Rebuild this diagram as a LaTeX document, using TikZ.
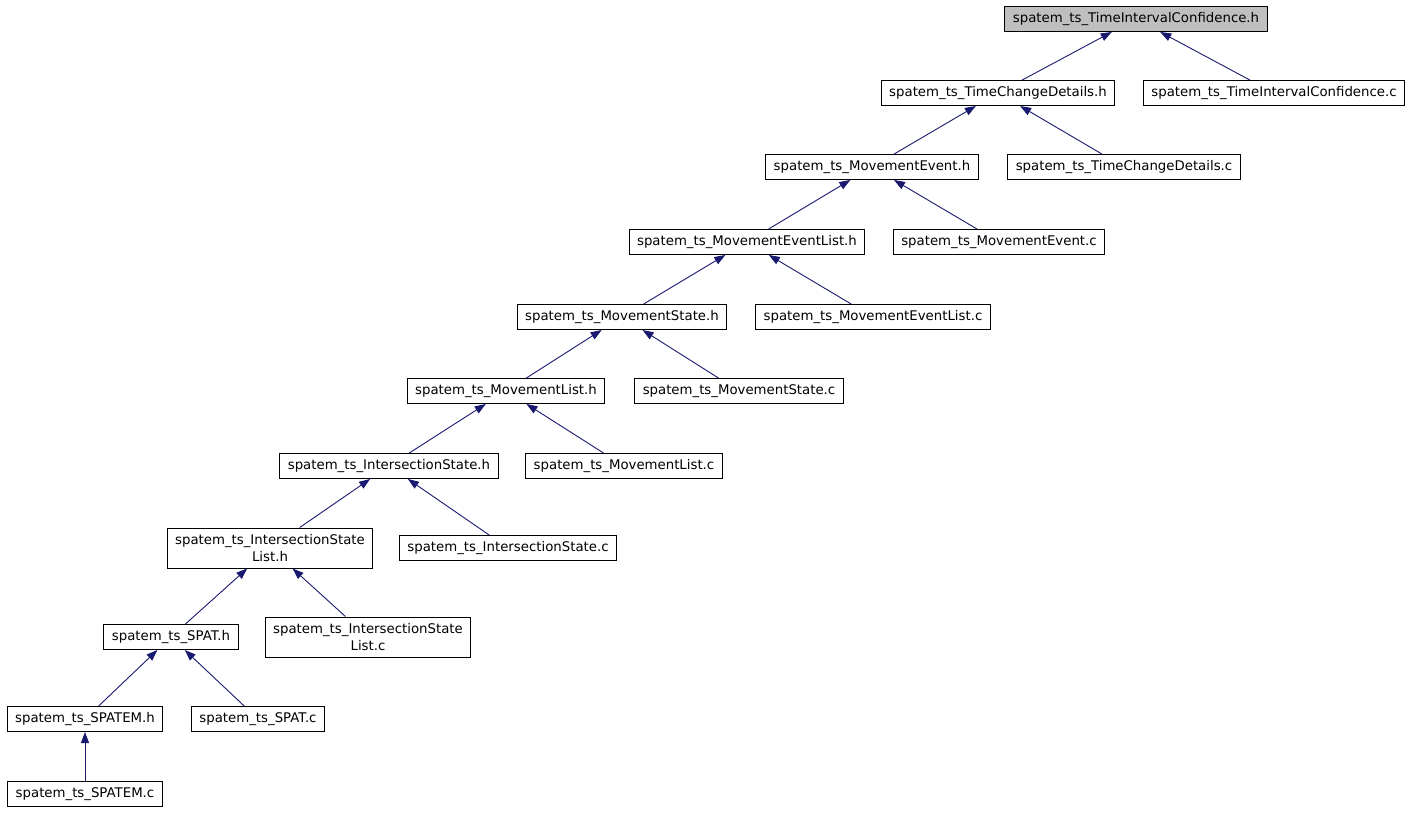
\documentclass[tikz,border=0pt]{standalone}
\usepackage{fontspec}
\setmainfont{DejaVu Sans}
\usetikzlibrary{arrows.meta}

\definecolor{edgeblue}{HTML}{191970}
\definecolor{rootgray}{HTML}{BFBFBF}

\tikzset{every picture/.style={line width=1pt}}
\tikzset{
    file/.style={draw, fill=white, font=\fontsize{13.3}{15}\selectfont, align=center,
        inner xsep=8pt, inner ysep=2pt, minimum height=25pt},
    twoline/.style={file, font=\fontsize{13.3}{16.5}\selectfont, minimum height=40pt},
    dep/.style={color=edgeblue, line width=0.9pt, -{Triangle[length=11pt,width=8pt]}}
}

\begin{document}
\begin{tikzpicture}[x=1pt, y=-1pt]
    \useasboundingbox (0,0) rectangle (1410,813);
    \node[file, fill=rootgray] (tic) at (1136,19) {spatem\_ts\_TimeIntervalConfidence.h};
    \node[file] (tcd) at (998,93) {spatem\_ts\_TimeChangeDetails.h};
    \node[file] (ticc) at (1274,93) {spatem\_ts\_TimeIntervalConfidence.c};
    \node[file] (mev) at (872,167) {spatem\_ts\_MovementEvent.h};
    \node[file] (tcdc) at (1124,167) {spatem\_ts\_TimeChangeDetails.c};
    \node[file] (mel) at (747,242) {spatem\_ts\_MovementEventList.h};
    \node[file] (mevc) at (999,242) {spatem\_ts\_MovementEvent.c};
    \node[file] (mst) at (622,317) {spatem\_ts\_MovementState.h};
    \node[file] (melc) at (873,317) {spatem\_ts\_MovementEventList.c};
    \node[file] (mli) at (506,391) {spatem\_ts\_MovementList.h};
    \node[file] (mstc) at (739,391) {spatem\_ts\_MovementState.c};
    \node[file] (ist) at (389,466) {spatem\_ts\_IntersectionState.h};
    \node[file] (mlic) at (624,466) {spatem\_ts\_MovementList.c};
    \node[twoline] (isl) at (270,548) {spatem\_ts\_IntersectionState\\List.h};
    \node[file] (istc) at (508,548) {spatem\_ts\_IntersectionState.c};
    \node[file] (spat) at (171,637) {spatem\_ts\_SPAT.h};
    \node[twoline] (islc) at (368,637) {spatem\_ts\_IntersectionState\\List.c};
    \node[file] (spatem) at (85,719) {spatem\_ts\_SPATEM.h};
    \node[file] (spatc) at (258,719) {spatem\_ts\_SPAT.c};
    \node[file] (spatemc) at (85,794) {spatem\_ts\_SPATEM.c};

    \draw[dep] (tcd) -- (tic);
    \draw[dep] (ticc) -- (tic);
    \draw[dep] (mev) -- (tcd);
    \draw[dep] (tcdc) -- (tcd);
    \draw[dep] (mel) -- (mev);
    \draw[dep] (mevc) -- (mev);
    \draw[dep] (mst) -- (mel);
    \draw[dep] (melc) -- (mel);
    \draw[dep] (mli) -- (mst);
    \draw[dep] (mstc) -- (mst);
    \draw[dep] (ist) -- (mli);
    \draw[dep] (mlic) -- (mli);
    \draw[dep] (isl) -- (ist);
    \draw[dep] (istc) -- (ist);
    \draw[dep] (spat) -- (isl);
    \draw[dep] (islc) -- (isl);
    \draw[dep] (spatem) -- (spat);
    \draw[dep] (spatc) -- (spat);
    \draw[dep] (spatemc) -- (spatem);
\end{tikzpicture}
\end{document}
